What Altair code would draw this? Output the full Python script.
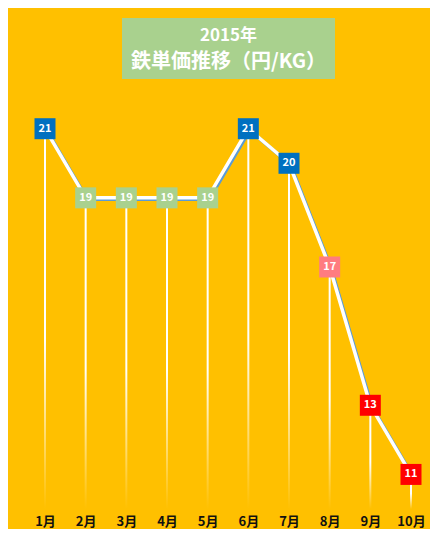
import altair as alt
import pandas as pd

months = ["1月", "2月", "3月", "4月", "5月", "6月", "7月", "8月", "9月", "10月"]
prices = [21, 19, 19, 19, 19, 21, 20, 17, 13, 11]
box_colors = ["#0070C0", "#A9D18E", "#A9D18E", "#A9D18E", "#A9D18E",
              "#0070C0", "#0070C0", "#FF7C80", "#FF0000", "#FF0000"]
title_lines = ["2015年", "鉄単価推移（円/KG）"]

df = pd.DataFrame({"month": months, "price": prices, "box": box_colors, "base": [10] * len(months)})

W, H = 366, 484
x = alt.X("month:N", sort=months, scale=alt.Scale(type="point", padding=0),
          axis=alt.Axis(title=None, domain=False, ticks=False, labelAngle=0,
                        labelFont="Noto Sans CJK JP", labelFontWeight="bold",
                        labelFontSize=13, labelColor="#111111", labelPadding=6))
y = alt.Y("price:Q", scale=alt.Scale(domain=[10, 24], nice=False, zero=False), axis=None)

base = alt.Chart(df)

drops = base.mark_bar(
    size=2,
    color=alt.Gradient(gradient="linear", x1=0, x2=0, y1=0, y2=1,
                       stops=[alt.GradientStop(color="#FFFFFF", offset=0),
                              alt.GradientStop(color="#FFFFFF", offset=0.55),
                              alt.GradientStop(color="#FFC000", offset=1)])
).encode(x=x, y=y, y2="base:Q")

shadow = base.mark_line(color="#5B9BD5", strokeWidth=3.5, xOffset=1.5, yOffset=1.5).encode(x=x, y=y)
line = base.mark_line(color="#FFFFFF", strokeWidth=3.5).encode(x=x, y=y)

boxes = base.mark_square(size=441, opacity=1).encode(
    x=x, y=y, color=alt.Color("box:N", scale=None))
labels = base.mark_text(color="white", font="Noto Sans CJK JP", fontWeight="bold",
                        fontSize=11).encode(x=x, y=y, text="price:Q")

tdf = pd.DataFrame({"t": [0]})
tbox = alt.Chart(tdf).mark_rect(color="#A9D18E").encode(
    x=alt.value(77), x2=alt.value(290), y=alt.value(-7), y2=alt.value(54))
t1 = alt.Chart(tdf).mark_text(color="white", font="Noto Sans CJK JP", fontWeight="bold",
                              fontSize=17, text=title_lines[0]).encode(
    x=alt.value(183.5), y=alt.value(11))
t2 = alt.Chart(tdf).mark_text(color="white", font="Noto Sans CJK JP", fontWeight="bold",
                              fontSize=20, text=title_lines[1]).encode(
    x=alt.value(183.5), y=alt.value(37))

chart = alt.layer(drops, shadow, line, boxes, labels, tbox, t1, t2).properties(
    width=W, height=H,
    autosize=alt.AutoSizeParams(type="none"),
    padding={"left": 37, "top": 17, "right": 19, "bottom": 20},
    background="#FFC000"
).configure_view(stroke=None)

chart.save("out.html", embed_options={"renderer": "svg", "actions": False})
